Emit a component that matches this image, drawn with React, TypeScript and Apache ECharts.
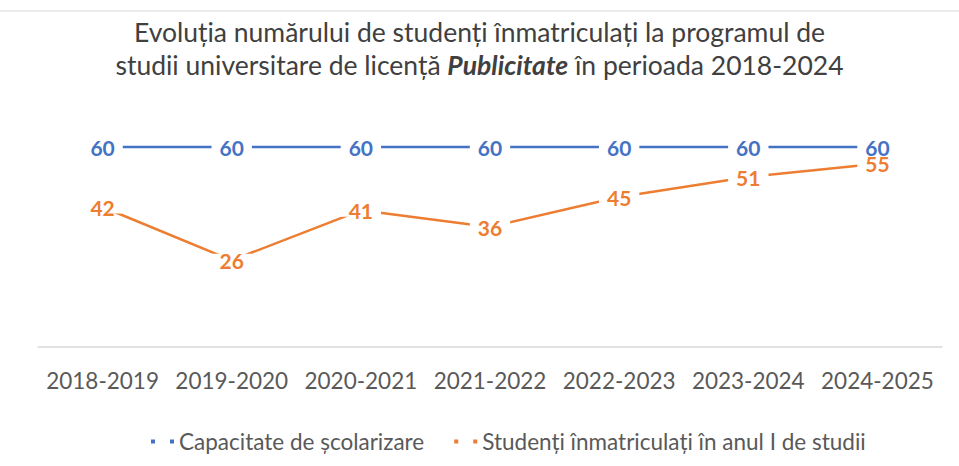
import React, { useEffect, useRef } from "react";
import * as echarts from "echarts";

const categories = ["2018-2019", "2019-2020", "2020-2021", "2021-2022", "2022-2023", "2023-2024", "2024-2025"];
const capacity = [60, 60, 60, 60, 60, 60, 60];
const enrolled = [42, 26, 41, 36, 45, 51, 55];
const seriesNames = ["Capacitate de școlarizare", "Studenți înmatriculați în anul I de studii"];
const titleLine1 = "Evoluția numărului de studenți înmatriculați la programul de";
const titleLine2a = "studii universitare de licență ";
const titleLine2b = "Publicitate";
const titleLine2c = " în perioada 2018-2024";

const FONT = "Lato, 'Open Sans', sans-serif";

export default function App() {
  const ref = useRef<HTMLDivElement>(null);
  useEffect(() => {
    if (!ref.current) return;
    const chart = echarts.init(ref.current, null, { renderer: "svg" });
    const labelCommon = {
      show: true,
      position: "inside",
      fontFamily: FONT,
      fontSize: 21,
      fontWeight: "bold",
      backgroundColor: "#ffffff",
      padding: [0, 8],
      lineHeight: 13,
    };
    chart.setOption({
      animation: false,
      backgroundColor: "#ffffff",
      textStyle: { fontFamily: FONT },
      title: {
        text: `${titleLine1}\n${titleLine2a}{b|${titleLine2b}}${titleLine2c}`,
        left: "center",
        top: 10,
        textStyle: {
          fontFamily: FONT,
          fontSize: 26.5,
          fontWeight: "normal",
          color: "#404040",
          lineHeight: 33,
          rich: {
            b: {
              fontFamily: FONT,
              fontSize: 26.5,
              fontWeight: "bold",
              fontStyle: "italic",
              color: "#404040",
              lineHeight: 33,
            },
          },
        },
      },
      graphic: [
        {
          type: "line",
          shape: { x1: 0, y1: 11, x2: 959, y2: 11 },
          style: { stroke: "#e6e6e6", lineWidth: 1.5 },
        },
      ],
      legend: {
        top: 425,
        left: 146,
        itemWidth: 23,
        itemHeight: 4,
        itemGap: 30,
        icon: "path://M0,0h4v4h-4z M19,0h4v4h-4z",
        textStyle: { fontFamily: FONT, fontSize: 22.5, color: "#595959" },
        data: seriesNames,
      },
      grid: { left: 38, right: 17, top: 113.7, bottom: 119 },
      xAxis: {
        type: "category",
        data: categories,
        boundaryGap: true,
        axisLine: { lineStyle: { color: "#d9d9d9", width: 1.5 } },
        axisTick: { show: false },
        axisLabel: { color: "#595959", fontSize: 22.5, fontFamily: FONT, margin: 22, interval: 0 },
      },
      yAxis: {
        type: "value",
        min: 0,
        max: 70,
        show: false,
        splitLine: { show: false },
      },
      series: [
        {
          name: seriesNames[0],
          type: "line",
          data: capacity,
          symbol: "circle",
          symbolSize: 1,
          lineStyle: { color: "#4472C4", width: 2.5 },
          itemStyle: { color: "#4472C4" },
          label: { ...labelCommon, color: "#4472C4" },
        },
        {
          name: seriesNames[1],
          type: "line",
          data: enrolled,
          symbol: "circle",
          symbolSize: 1,
          lineStyle: { color: "#ED7D31", width: 2.5 },
          itemStyle: { color: "#ED7D31" },
          label: { ...labelCommon, color: "#ED7D31" },
        },
      ],
    });
    return () => chart.dispose();
  }, []);
  return (
    <div
      ref={ref}
      style={{ position: "absolute", left: 0, top: 0, width: 959, height: 466 }}
    />
  );
}
